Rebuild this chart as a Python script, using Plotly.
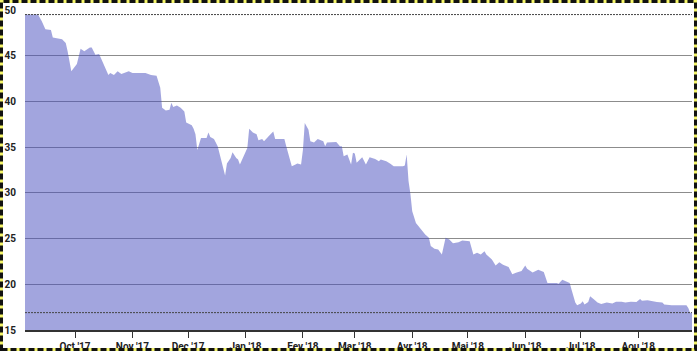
import plotly.graph_objects as go

dates = [
    "2017-09-04", "2017-09-11", "2017-09-13", "2017-09-15", "2017-09-18", "2017-09-19",
    "2017-09-24", "2017-09-26", "2017-09-27", "2017-09-29", "2017-10-02", "2017-10-03",
    "2017-10-04", "2017-10-06", "2017-10-09", "2017-10-10", "2017-10-12", "2017-10-14",
    "2017-10-16", "2017-10-19", "2017-10-20", "2017-10-22", "2017-10-24", "2017-10-26",
    "2017-10-30", "2017-11-01", "2017-11-08", "2017-11-11", "2017-11-14", "2017-11-16",
    "2017-11-17", "2017-11-19", "2017-11-21", "2017-11-22", "2017-11-23", "2017-11-25",
    "2017-11-27", "2017-11-29", "2017-11-30", "2017-12-03", "2017-12-04", "2017-12-05",
    "2017-12-06", "2017-12-08", "2017-12-11", "2017-12-12", "2017-12-13", "2017-12-15",
    "2017-12-17", "2017-12-19", "2017-12-21", "2017-12-22", "2017-12-24", "2017-12-25",
    "2017-12-27", "2017-12-28", "2017-12-29", "2017-12-31", "2018-01-02", "2018-01-03",
    "2018-01-05", "2018-01-07", "2018-01-08", "2018-01-10", "2018-01-11", "2018-01-14",
    "2018-01-16", "2018-01-17", "2018-01-22", "2018-01-23", "2018-01-26", "2018-01-28",
    "2018-01-29", "2018-01-31", "2018-02-01", "2018-02-02", "2018-02-04", "2018-02-05",
    "2018-02-07", "2018-02-09", "2018-02-12", "2018-02-13", "2018-02-14", "2018-02-19",
    "2018-02-21", "2018-02-22", "2018-02-23", "2018-02-25", "2018-02-27", "2018-02-28",
    "2018-03-01", "2018-03-02", "2018-03-04", "2018-03-05", "2018-03-07", "2018-03-09",
    "2018-03-12", "2018-03-14", "2018-03-15", "2018-03-18", "2018-03-20", "2018-03-22",
    "2018-03-27", "2018-03-28", "2018-03-29", "2018-03-30", "2018-03-31", "2018-04-01",
    "2018-04-03", "2018-04-05", "2018-04-08", "2018-04-10", "2018-04-11", "2018-04-13",
    "2018-04-15", "2018-04-17", "2018-04-19", "2018-04-21", "2018-04-23", "2018-04-26",
    "2018-04-28", "2018-05-02", "2018-05-04", "2018-05-06", "2018-05-08", "2018-05-10",
    "2018-05-11", "2018-05-14", "2018-05-16", "2018-05-18", "2018-05-20", "2018-05-23",
    "2018-05-25", "2018-05-27", "2018-05-30", "2018-06-01", "2018-06-02", "2018-06-05",
    "2018-06-08", "2018-06-11", "2018-06-13", "2018-06-18", "2018-06-19", "2018-06-21",
    "2018-06-23", "2018-06-25", "2018-06-26", "2018-06-28", "2018-06-29", "2018-07-01",
    "2018-07-02", "2018-07-03", "2018-07-05", "2018-07-06", "2018-07-08", "2018-07-10",
    "2018-07-12", "2018-07-15", "2018-07-18", "2018-07-20", "2018-07-23", "2018-07-25",
    "2018-07-28", "2018-07-31", "2018-08-02", "2018-08-03", "2018-08-06", "2018-08-08",
    "2018-08-11", "2018-08-14", "2018-08-15", "2018-08-19", "2018-08-27", "2018-08-28",
    "2018-08-29", "2018-08-30",
]

values = [
    49.5, 49.5, 48.8, 47.9, 47.8, 47.0,
    46.8, 46.4, 45.5, 43.3, 44.1, 44.8,
    45.75, 45.5, 45.9, 45.9, 45.1, 45.2,
    44.2, 42.9, 43.1, 42.9, 43.3, 43.0,
    43.3, 43.1, 43.1, 42.9, 42.8, 41.5,
    39.3, 39.0, 39.1, 39.85, 39.4, 39.55,
    39.3, 38.9, 37.7, 37.4, 37.0, 36.4,
    34.7, 36.0, 36.0, 36.6, 36.1, 35.9,
    35.1, 33.65, 31.9, 33.2, 33.8, 34.45,
    33.8, 33.65, 33.1, 34.0, 34.9, 37.0,
    36.6, 36.4, 35.75, 35.9, 35.65, 36.3,
    36.7, 35.9, 35.9, 35.1, 32.9, 33.1,
    33.2, 33.1, 34.7, 37.65, 36.9, 35.65,
    35.5, 35.9, 35.65, 35.1, 35.5, 35.55,
    35.1, 35.1, 34.0, 34.2, 33.1, 34.4,
    34.3, 33.3, 33.7, 33.9, 33.1, 33.9,
    33.7, 33.45, 33.65, 33.45, 33.2, 32.9,
    32.9, 33.0, 34.2, 31.3, 29.9, 28.0,
    26.7, 26.2, 25.45, 25.1, 24.2, 23.9,
    23.8, 23.25, 25.1, 24.9, 24.5, 24.6,
    24.8, 24.7, 23.25, 23.45, 23.25, 23.6,
    23.25, 22.7, 22.05, 22.4, 22.15, 21.9,
    21.1, 21.25, 21.45, 22.05, 21.7, 21.3,
    21.6, 21.35, 20.15, 20.15, 20.05, 20.5,
    20.35, 20.15, 19.4, 18.0, 17.7, 17.9,
    18.15, 17.8, 18.05, 18.7, 18.35, 18.0,
    17.85, 18.0, 17.9, 18.1, 18.1, 18.0,
    18.1, 18.05, 18.4, 18.2, 18.25, 18.15,
    18.05, 18.0, 17.8, 17.7, 17.7, 17.4,
    16.9, 16.9,
]

tick_dates = ["2017-10-01", "2017-11-01", "2017-12-01", "2018-01-01", "2018-02-01",
              "2018-03-01", "2018-04-01", "2018-05-01", "2018-06-01", "2018-07-01",
              "2018-08-01"]
tick_labels = ["Oct '17", "Nov '17", "Dec '17", "Jan '18", "Fev '18", "Mar '18",
               "Avr '18", "Mai '18", "Jun '18", "Jul '18", "Aou '18"]
y_ticks = [15, 20, 25, 30, 35, 40, 45, 50]
y_range = [15, 50]

W, H = 697, 351
ML, MR, MT, MB = 25, 5, 10, 21

fig = go.Figure()
fig.add_trace(go.Scatter(
    x=dates, y=values, mode="lines", fill="tozeroy",
    line=dict(color="rgba(70,75,190,0.5)", width=0),
    fillcolor="rgba(70,75,190,0.5)", hoverinfo="skip", showlegend=False,
))

tick_font = dict(family="Roboto", size=10, color="#222222", weight="bold")

fig.update_layout(
    width=W, height=H,
    margin=dict(l=ML, r=MR, t=MT, b=MB, pad=0),
    paper_bgcolor="white", plot_bgcolor="white",
    xaxis=dict(
        range=[dates[0], dates[-1]],
        tickmode="array", tickvals=tick_dates, ticktext=tick_labels,
        ticks="outside", ticklen=6, tickwidth=1, tickcolor="#333333",
        showgrid=False, showline=True, linecolor="#333333", linewidth=2,
        tickfont=tick_font, automargin=False, zeroline=False,
    ),
    yaxis=dict(
        range=y_range, tickmode="array", tickvals=y_ticks,
        showgrid=True, gridcolor="#8c8c8c", gridwidth=1,
        showline=False, ticks="", zeroline=False,
        tickfont=tick_font, automargin=False, ticklabelstandoff=8,
    ),
)

vmax, vmin = max(values), min(values)
for v in (vmax, vmin):
    fig.add_shape(type="line", xref="paper", yref="y", x0=0, x1=1, y0=v, y1=v,
                  line=dict(color="#444444", width=1, dash="2px,1px"), layer="above")

# page border (yellow with black dashes)
pw, ph = W - ML - MR, H - MT - MB
bx0, bx1 = (1.5 - ML) / pw, (W - 1.5 - ML) / pw
by0, by1 = -(H - 1.5 - MT - ph) / ph, (ph + MT - 1.5) / ph
for col, dash in (("#f4f46a", "solid"), ("#111111", "6px,3px")):
    fig.add_shape(type="rect", xref="paper", yref="paper",
                  x0=bx0, x1=bx1, y0=by0, y1=by1,
                  line=dict(color=col, width=3, dash=dash), layer="above")

fig.write_html("out.html")
